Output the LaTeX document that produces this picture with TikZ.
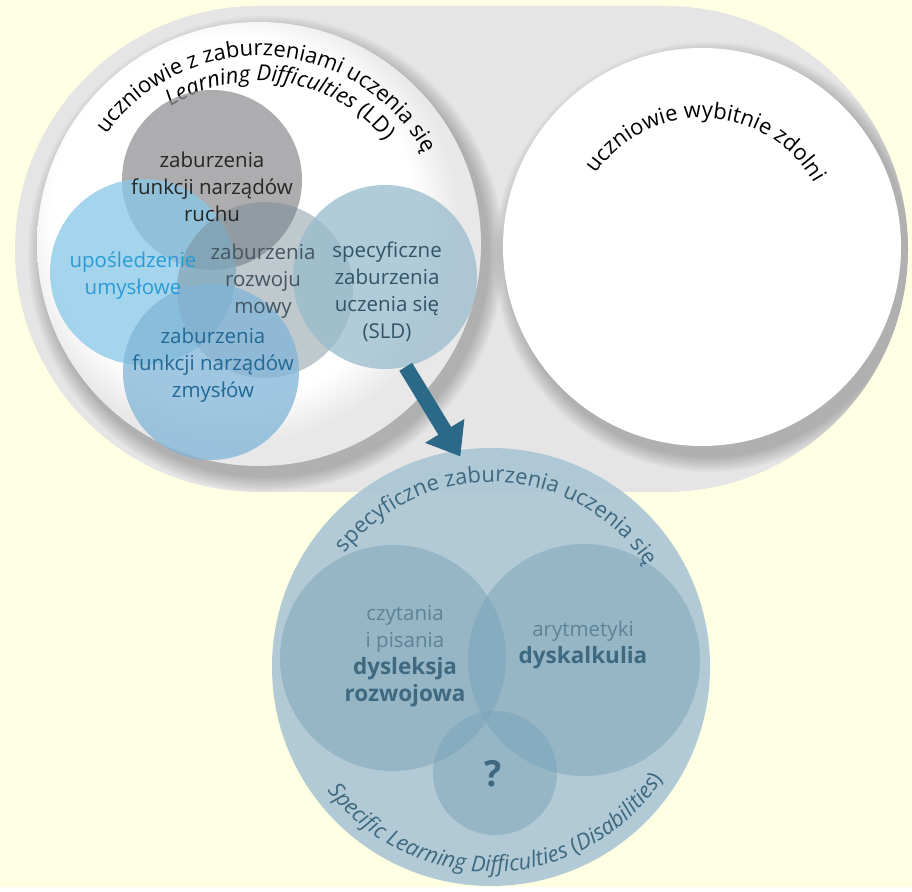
\documentclass[tikz,border=0pt]{standalone}
\usepackage{fontspec}
\setmainfont{Open Sans}
\usetikzlibrary{arrows.meta,decorations.text}
\definecolor{paper}{RGB}{255,255,227}
\definecolor{frame}{RGB}{229,229,229}
\definecolor{motor}{RGB}{146,146,149}
\definecolor{mental}{RGB}{135,200,232}
\definecolor{sense}{RGB}{128,181,215}
\definecolor{speech}{RGB}{115,135,145}
\definecolor{sldfill}{RGB}{152,187,205}
\definecolor{sldbig}{RGB}{169,197,212}
\definecolor{sldsub}{RGB}{124,163,185}
\definecolor{mentaltext}{RGB}{41,155,214}
\definecolor{sensetext}{RGB}{35,105,150}
\definecolor{speechtext}{RGB}{68,86,98}
\definecolor{sldtext}{RGB}{50,84,104}
\definecolor{subtext}{RGB}{95,130,150}
\definecolor{subbold}{RGB}{62,105,128}
\definecolor{arrowblue}{RGB}{44,104,136}
\pgfdeclareradialshading{rimfade}{\pgfpoint{-5bp}{5bp}}{color(0bp)=(white); color(20.5bp)=(white); color(25bp)=(black!9); color(50bp)=(black!9)}
\newcommand\circfont{\fontsize{20.5}{27}\selectfont}
\newcommand\boldfont{\fontsize{22.5}{27}\selectfont\bfseries}
\newcommand\arcfont{\fontsize{22}{26}\selectfont}
\begin{document}
\begin{tikzpicture}[x=1pt, y=1pt,
  disc/.style={circle, inner sep=0pt, minimum size=#1pt},
  soft/.style={fill opacity=0.75},
  lbl/.style={align=center, font=\circfont, inner sep=0pt},
  arctext/.style={decorate, decoration={text along path, text align=center, text={#1}}}]
   \fill[paper] (0,0) rectangle (912,887);
   \fill[frame, rounded corners=243pt] (15,395) rectangle (908,881);
   \begin{scope}
     \clip[rounded corners=243pt] (15,395) rectangle (908,881);
     \foreach \k in {1,...,10} {
       \fill[black, opacity=0.022] (266,633) circle (222+1.6*\k);
       \fill[black, opacity=0.022] (709,630) circle (199+1.6*\k);
     }
   \end{scope}
   \node[disc=444, shade, shading=rimfade] (ld) at (259,643) {};
   \node[disc=398, fill=white] (gifted) at (702,640) {};
   \path[arctext={|\arcfont|uczniowie z zaburzeniami uczenia się}]
     (ld.center) ++(166.5:188) arc[start angle=166.5, end angle=6.5, radius=188];
   \path[arctext={|\arcfont\itshape|Learning Difficulties |\arcfont\upshape|(LD)}]
     (ld.center) ++(161:163) arc[start angle=161, end angle=1, radius=163];
   \path[arctext={|\arcfont|uczniowie wybitnie zdolni}]
     (gifted.center) ++(167.5:129) arc[start angle=167.5, end angle=7.5, radius=129];
   \node[disc=180, fill=motor, soft] (motor) at (212,707) {};
   \node[disc=186, fill=mental, soft] (mental) at (143,615) {};
   \node[disc=176, fill=speech, fill opacity=0.45] (speech) at (265,597) {};
   \node[disc=176, fill=sense, soft] (sense) at (211,515) {};
   \node[disc=184, fill=sldfill, soft] (sld) at (385,610) {};
   \node[lbl, text=black!85] (t-motor) at (212,700) {zaburzenia\\funkcji narządów\\ruchu};
   \node[lbl, text=mentaltext] (t-mental) at (133,611) {upośledzenie\\umysłowe};
   \node[lbl, text=speechtext] (t-speech) at (263,606) {zaburzenia\\rozwoju\\mowy};
   \node[lbl, text=sldtext] (t-sld) at (387,595) {specyficzne\\zaburzenia\\uczenia się\\(SLD)};
   \node[lbl, text=sensetext] (t-sense) at (213,522) {zaburzenia\\funkcji narządów\\zmysłów};
   \node[disc=438, fill=sldbig, fill opacity=0.9] (spec) at (491,220) {};
   \node[disc=226, fill=sldsub, fill opacity=0.5] (read) at (393,229) {};
   \node[disc=232, fill=sldsub, fill opacity=0.5] (math) at (584,227) {};
   \node[disc=124, fill=sldsub, fill opacity=0.5] (quest) at (495,114) {};
   \draw[line width=15pt, arrowblue, -{Triangle[width=44pt,length=30pt]}, shorten >=-7pt] (sld.-77) -- (spec.99);
   \path[arctext={|\arcfont|specyficzne zaburzenia uczenia się}, decoration={text color=subbold}]
     (spec.center) ++(167.5:185) arc[start angle=167.5, end angle=7.5, radius=185];
   \path[arctext={|\arcfont\itshape|Specific Learning Difficulties |\arcfont\upshape|(|\arcfont\itshape|Disabilities|\arcfont\upshape|)}, decoration={text color=subbold}]
     (spec.center) ++(192:205) arc[start angle=192, end angle=352, radius=205];
   \node[lbl, text=subtext] (t-read) at (405,231) {czytania\\i pisania\\\textcolor{subbold}{\boldfont dysleksja}\\\textcolor{subbold}{\boldfont rozwojowa}};
   \node[lbl, text=subtext] (t-math) at (583,242) {arytmetyki\\\textcolor{subbold}{\boldfont dyskalkulia}};
   \node[lbl, text=subbold, font=\fontsize{36}{40}\selectfont\bfseries] (t-quest) at (493,113) {?};
\end{tikzpicture}
\end{document}
